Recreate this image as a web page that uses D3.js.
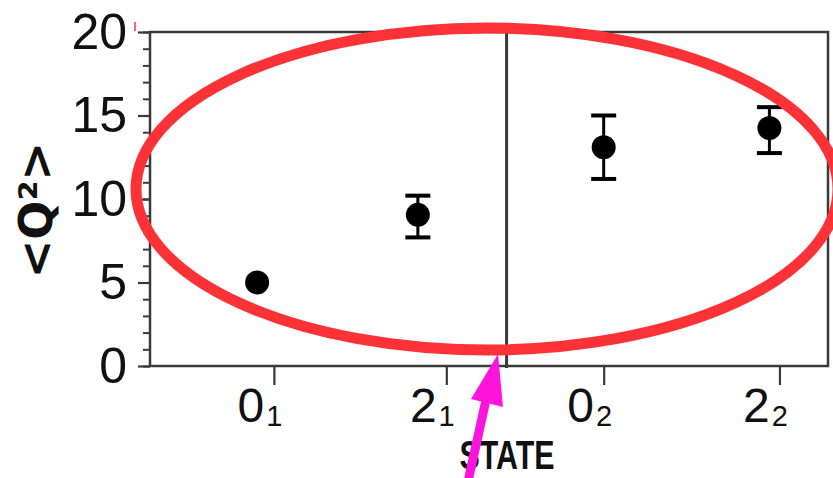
<!DOCTYPE html>
<html>
<head>
<meta charset="utf-8">
<script src="https://cdn.jsdelivr.net/npm/d3@7"></script>
<style>
  body { margin: 0; background: #fff; }
  svg { display: block; }
</style>
</head>
<body>
<div id="chart"></div>
<script>
// states on the x axis (main digit + subscript), and where they sit on the state axis
var states = ["0", "2", "0", "2"];
var stateSubs = ["1", "1", "2", "2"];
var statePos = [0.99, 2.02, 2.96, 4.01];
var dividerPos = 2.38;

// measured <Q2> per state (points are a little jittered off their tick)
var pointPos = [0.89, 1.85, 2.96, 3.95];
var q2 = [5.0, 9.05, 13.1, 14.25];
var q2Low = [null, 7.7, 11.2, 12.75];
var q2High = [null, 10.2, 15.0, 15.5];

var yTicks = [0, 5, 10, 15, 20];
var yMinorTicks = d3.range(0, 21);

var W = 833, H = 478;
var margin = {top: 32, right: 5, bottom: 112, left: 150};
var width = W - margin.left - margin.right,
    height = H - margin.top - margin.bottom;

var svg = d3.select("#chart").append("svg")
    .attr("width", W).attr("height", H);

var g = svg.append("g")
    .attr("transform", "translate(" + margin.left + "," + margin.top + ")");

var x = d3.scaleLinear().domain([0.25, 4.3]).range([0, width]);
var y = d3.scaleLinear().domain([0, 20]).range([height, 0]);

var axisColor = "#3a3a3a";
var font = "'Liberation Sans', Arial, sans-serif";

// minor y ticks
g.append("g")
    .call(d3.axisLeft(y).tickValues(yMinorTicks).tickSize(7).tickFormat(""))
    .call(function(a) { a.select(".domain").remove(); })
    .selectAll("line").attr("stroke", axisColor).attr("stroke-width", 2);

// major y ticks + labels
var yAxis = g.append("g")
    .call(d3.axisLeft(y).tickValues(yTicks).tickSize(12).tickPadding(11));
yAxis.select(".domain").remove();
yAxis.selectAll("line").attr("stroke", axisColor).attr("stroke-width", 2.2);
yAxis.selectAll("text")
    .attr("font-family", font)
    .attr("font-size", 50)
    .attr("fill", "#111");

// x ticks
var xAxis = g.append("g")
    .attr("transform", "translate(0," + height + ")")
    .call(d3.axisBottom(x).tickValues(statePos).tickSize(19).tickFormat(""));
xAxis.select(".domain").remove();
xAxis.selectAll("line").attr("stroke", axisColor).attr("stroke-width", 2.2);

// x tick labels with subscripts
var xl = g.append("g").selectAll("text")
    .data(statePos)
    .enter().append("text")
    .attr("x", function(d) { return x(d) - 14; })
    .attr("y", height + 56)
    .attr("text-anchor", "middle")
    .attr("font-family", font)
    .attr("fill", "#111");
xl.append("tspan")
    .attr("font-size", 48)
    .text(function(d, i) { return states[i]; });
xl.append("tspan")
    .attr("font-size", 29)
    .attr("dy", 4)
    .attr("dx", 2)
    .text(function(d, i) { return stateSubs[i]; });

// frame and divider
g.append("rect")
    .attr("width", width).attr("height", height)
    .attr("fill", "none")
    .attr("stroke", axisColor)
    .attr("stroke-width", 2.5);

g.append("line")
    .attr("x1", x(dividerPos)).attr("x2", x(dividerPos))
    .attr("y1", 0).attr("y2", height + 2)
    .attr("stroke", axisColor)
    .attr("stroke-width", 3);

// error bars
var pts = d3.range(q2.length).map(function(i) {
  return {x: pointPos[i], v: q2[i], lo: q2Low[i], hi: q2High[i]};
});
var eb = g.append("g").selectAll("g")
    .data(pts.filter(function(d) { return d.lo != null; }))
    .enter().append("g")
    .attr("stroke", "#000");
eb.append("line")
    .attr("x1", function(d) { return x(d.x); })
    .attr("x2", function(d) { return x(d.x); })
    .attr("y1", function(d) { return y(d.lo); })
    .attr("y2", function(d) { return y(d.hi); })
    .attr("stroke-width", 3);
eb.append("line")
    .attr("x1", function(d) { return x(d.x) - 12.5; })
    .attr("x2", function(d) { return x(d.x) + 12.5; })
    .attr("y1", function(d) { return y(d.hi); })
    .attr("y2", function(d) { return y(d.hi); })
    .attr("stroke-width", 4);
eb.append("line")
    .attr("x1", function(d) { return x(d.x) - 12.5; })
    .attr("x2", function(d) { return x(d.x) + 12.5; })
    .attr("y1", function(d) { return y(d.lo); })
    .attr("y2", function(d) { return y(d.lo); })
    .attr("stroke-width", 4);

// points
g.append("g").selectAll("circle")
    .data(pts)
    .enter().append("circle")
    .attr("cx", function(d) { return x(d.x); })
    .attr("cy", function(d) { return y(d.v); })
    .attr("r", 12)
    .attr("fill", "#000");

// axis titles
svg.append("text")
    .attr("transform", "translate(52," + 210 + ") rotate(-90)")
    .attr("text-anchor", "middle")
    .attr("font-family", "'DejaVu Sans', sans-serif")
    .attr("font-weight", "bold")
    .attr("font-size", 46)
    .attr("fill", "#111")
    .text("<Q\u00b2>");

svg.append("text")
    .attr("transform", "translate(507,469) scale(0.76,1)")
    .attr("text-anchor", "middle")
    .attr("font-family", font)
    .attr("font-weight", "bold")
    .attr("font-size", 40)
    .attr("fill", "#111")
    .text("STATE");

// annotations drawn over the chart: red ellipse, magenta arrow
svg.append("line")
    .attr("x1", 135).attr("x2", 135).attr("y1", 22).attr("y2", 31)
    .attr("stroke", "#f33").attr("stroke-width", 1.5);

svg.append("ellipse")
    .attr("cx", 487).attr("cy", 189)
    .attr("rx", 351).attr("ry", 161)
    .attr("fill", "none")
    .attr("stroke", "#fd3236")
    .attr("stroke-width", 11);

svg.append("line")
    .attr("x1", 467).attr("y1", 486)
    .attr("x2", 486).attr("y2", 400)
    .attr("stroke", "#ff14dc")
    .attr("stroke-width", 9);
svg.append("path")
    .attr("d", "M498,354 L471,399 L503,407 Z")
    .attr("fill", "#ff14dc");
</script>
</body>
</html>
